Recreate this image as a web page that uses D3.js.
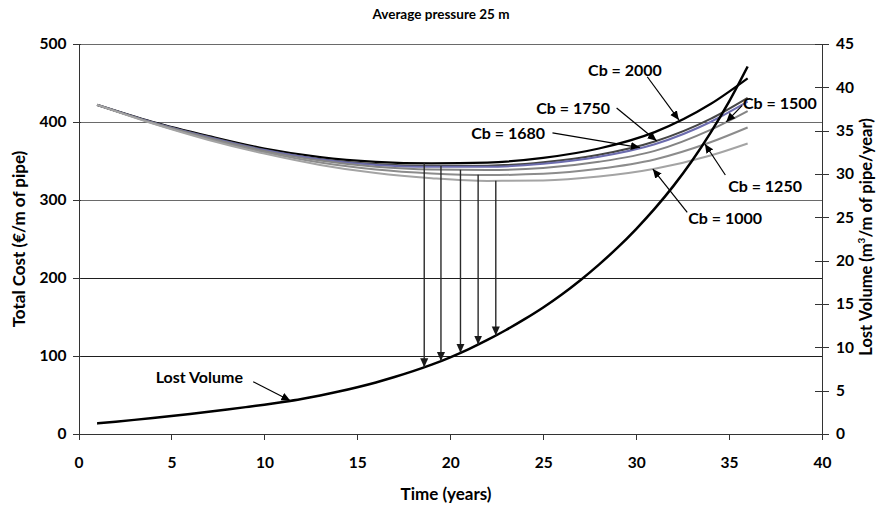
<!DOCTYPE html>
<html>
<head>
<meta charset="utf-8">
<script src="https://cdn.jsdelivr.net/npm/d3@7"></script>
<style>
  body { margin: 0; background: #fff; }
  svg text { font-family: Lato, "Open Sans", "DejaVu Sans", sans-serif; font-weight: 700; fill: #000; }
</style>
</head>
<body>
<svg id="chart" width="882" height="509"></svg>
<script>
// ---- data ----------------------------------------------------------------
const title = "Average pressure 25 m";
const xTicks = [0, 5, 10, 15, 20, 25, 30, 35, 40];
const costTicks = [0, 100, 200, 300, 400, 500];
const volumeTicks = [0, 5, 10, 15, 20, 25, 30, 35, 40, 45];

// total cost (€/m of pipe) sampled along the pipe's life
const costYears = [1, 4, 7, 10, 13, 16, 19, 22, 25, 28, 31, 34, 36];
const cb2000 = [422, 400, 382, 366, 355, 349, 347, 348, 354, 366, 387, 423, 456];
const cb1750 = [422, 399.5, 381, 364.5, 352.5, 346, 343.5, 344, 348.5, 358, 375, 404, 431];
const cb1680 = [422, 399.5, 380.5, 364, 352, 345, 342.5, 342.5, 346.5, 355.5, 371.5, 400, 426];
const cb1500 = [422, 399, 379.5, 363, 350.5, 342.5, 339, 338.5, 341, 349, 363, 390, 414];
const cb1250 = [422, 398.5, 378.5, 361.5, 348, 339, 334, 332, 333.5, 340, 352, 374, 393];
const cb1000 = [422, 398, 377, 359.5, 345, 334.5, 328, 324.5, 325, 330, 340, 357, 372.5];

// lost volume (m3/m of pipe/year)
const lostYears = [1, 2, 3, 4, 5, 6, 7, 8, 9, 10, 11, 12, 13, 14, 15, 16, 17, 18,
                   19, 20, 21, 22, 23, 24, 25, 26, 27, 28, 29, 30, 31, 32, 33, 34, 35, 36];
const lostVolume = [1.22, 1.42, 1.63, 1.85, 2.08, 2.32, 2.57, 2.83, 3.1, 3.38, 3.7, 4.05, 4.45, 4.9, 5.4, 5.95, 6.57, 7.25,
                    8.0, 8.85, 9.8, 10.85, 12.0, 13.25, 14.6, 16.1, 17.75, 19.55, 21.5, 23.65, 26.0, 28.6, 31.5, 34.75, 38.35, 42.4];

// optimal replacement time of each cost curve
const optimumYears = [18.6, 19.5, 20.55, 21.5, 22.45];
const optimumSeries = ["Cb = 2000", "Cb = 1750", "Cb = 1500", "Cb = 1250", "Cb = 1000"];

// ---- layout --------------------------------------------------------------
const plot = { left: 78.5, right: 822, top: 44, bottom: 434 };

const svg = d3.select("#chart");
const x = d3.scaleLinear().domain([0, 40]).range([plot.left, plot.right]);
const yCost = d3.scaleLinear().domain([0, 500]).range([plot.bottom, plot.top]);
const yVol = d3.scaleLinear().domain([0, 45]).range([plot.bottom, plot.top]);

const series = [
  { name: "Cb = 2000", values: cb2000, color: "#000000", width: 2.2 },
  { name: "Cb = 1750", values: cb1750, color: "#454545", width: 2 },
  { name: "Cb = 1680", values: cb1680, color: "#6c6cae", width: 2 },
  { name: "Cb = 1500", values: cb1500, color: "#848484", width: 2 },
  { name: "Cb = 1250", values: cb1250, color: "#8c8c8c", width: 2 },
  { name: "Cb = 1000", values: cb1000, color: "#a4a4a4", width: 2 }
];
const byName = {};
series.forEach(s => { byName[s.name] = s; s.at = d3.scaleLinear().domain(costYears).range(s.values); });
const volAt = d3.scaleLinear().domain(lostYears).range(lostVolume);

// arrowhead markers
const defs = svg.append("defs");
function marker(id, color, size) {
  defs.append("marker")
    .attr("id", id).attr("markerUnits", "userSpaceOnUse")
    .attr("viewBox", "0 0 10 10").attr("refX", 10).attr("refY", 5)
    .attr("markerWidth", size).attr("markerHeight", size).attr("orient", "auto")
    .append("path").attr("d", "M0,0.5 L10,5 L0,9.5 Z").attr("fill", color);
}
marker("headDrop", "#1a1a1a", 9);
marker("headLabel", "#000", 9);

// gridlines: the lower two read darker than the upper ones
const grid = svg.append("g").attr("shape-rendering", "crispEdges");
grid.selectAll("line").data(costTicks.filter(d => d > 0)).join("line")
  .attr("x1", plot.left).attr("x2", plot.right)
  .attr("y1", d => yCost(d)).attr("y2", d => yCost(d))
  .attr("stroke", d => (d <= 200 ? "#1e1e1e" : "#6a6a6a")).attr("stroke-width", 1);

// axes
function styleAxis(g) {
  g.select(".domain").attr("stroke", "#333").attr("shape-rendering", "crispEdges");
  g.selectAll(".tick line").attr("stroke", "#333").attr("shape-rendering", "crispEdges");
  g.selectAll(".tick text").style("font-size", "15.5px").attr("fill", "#000");
}
const gx = svg.append("g").attr("transform", `translate(0,${plot.bottom})`)
  .call(d3.axisBottom(x).tickValues(xTicks).tickSizeInner(6).tickSizeOuter(0).tickPadding(17).tickFormat(d3.format("d")));
styleAxis(gx);

const gl = svg.append("g").attr("transform", `translate(${plot.left},0)`)
  .call(d3.axisLeft(yCost).tickValues(costTicks).tickSizeInner(6).tickSizeOuter(0).tickPadding(6).tickFormat(d3.format("d")));
styleAxis(gl);
gl.selectAll(".tick line").attr("x1", 2);

const gr = svg.append("g").attr("transform", `translate(${plot.right},0)`)
  .call(d3.axisRight(yVol).tickValues(volumeTicks).tickSizeInner(7).tickSizeOuter(0).tickPadding(7).tickFormat(d3.format("d")));
styleAxis(gr);
gr.selectAll(".tick line").attr("x1", -7);

// cost curves (darkest first so the lighter ones sit on top)
const costLine = d3.line().x(d => x(d[0])).y(d => yCost(d[1])).curve(d3.curveMonotoneX);
svg.append("g").selectAll("path").data(series).join("path")
  .attr("d", s => costLine(costYears.map((t, i) => [t, s.values[i]])))
  .attr("fill", "none").attr("stroke", s => s.color).attr("stroke-width", s => s.width);

// lost volume curve on the right axis
const volLine = d3.line().x(d => x(d[0])).y(d => yVol(d[1])).curve(d3.curveMonotoneX);
svg.append("path")
  .attr("d", volLine(lostYears.map((t, i) => [t, lostVolume[i]])))
  .attr("fill", "none").attr("stroke", "#000").attr("stroke-width", 2.5);

// drop lines from each cost minimum to the lost volume curve
svg.append("g").selectAll("line").data(optimumYears).join("line")
  .attr("x1", t => x(t)).attr("x2", t => x(t))
  .attr("y1", (t, i) => yCost(byName[optimumSeries[i]].at(t)))
  .attr("y2", t => yVol(volAt(t)))
  .attr("stroke", "#2a2a2a").attr("stroke-width", 1.4)
  .attr("marker-end", "url(#headDrop)");

// curve labels with pointer arrows (positions in data units)
const labels = [
  { text: "Cb = 2000", tx: 29.4, ty: 466, anchor: "middle", ax: 30.6, ay: 458, target: () => [32.3, byName["Cb = 2000"].at(32.3)], axis: "cost" },
  { text: "Cb = 1750", tx: 28.6, ty: 417, anchor: "end", ax: 28.95, ay: 418, target: () => [31.1, byName["Cb = 1750"].at(31.1)], axis: "cost" },
  { text: "Cb = 1680", tx: 25.1, ty: 385, anchor: "end", ax: 25.5, ay: 386, target: () => [30.2, byName["Cb = 1680"].at(30.2)], axis: "cost" },
  { text: "Cb = 1500", tx: 35.75, ty: 424, anchor: "start", ax: 35.7, ay: 421, target: () => [34.85, byName["Cb = 1500"].at(34.85)], axis: "cost" },
  { text: "Cb = 1250", tx: 34.95, ty: 318, anchor: "start", ax: 34.8, ay: 332, target: () => [33.7, byName["Cb = 1250"].at(33.7)], axis: "cost" },
  { text: "Cb = 1000", tx: 32.8, ty: 276, anchor: "start", ax: 32.75, ay: 284, target: () => [30.9, byName["Cb = 1000"].at(30.9)], axis: "cost" },
  { text: "Lost Volume", tx: 4.15, ty: 72, anchor: "start", ax: 9.4, ay: 67, target: () => [11.4, volAt(11.4)], axis: "vol" }
];
const lab = svg.append("g");
labels.forEach(l => {
  const [tt, tv] = l.target();
  const yT = l.axis === "vol" ? yVol(tv) : yCost(tv);
  lab.append("line")
    .attr("x1", x(l.ax)).attr("y1", yCost(l.ay))
    .attr("x2", x(tt)).attr("y2", yT)
    .attr("stroke", "#000").attr("stroke-width", 1.2)
    .attr("marker-end", "url(#headLabel)");
  lab.append("text")
    .attr("x", x(l.tx)).attr("y", yCost(l.ty)).attr("dy", "0.35em")
    .attr("text-anchor", l.anchor).style("font-size", "16px")
    .text(l.text);
});

// titles
svg.append("text").attr("x", 441).attr("y", 19).attr("text-anchor", "middle")
  .style("font-size", "13.5px").text(title);
svg.append("text").attr("x", 446).attr("y", 500).attr("text-anchor", "middle")
  .style("font-size", "17px").text("Time (years)");
svg.append("text").attr("transform", "translate(25,239) rotate(-90)")
  .attr("text-anchor", "middle").style("font-size", "17px").text("Total Cost (€/m of pipe)");
const rt = svg.append("text").attr("transform", "translate(872,237) rotate(-90)")
  .attr("text-anchor", "middle").style("font-size", "16.5px");
rt.append("tspan").text("Lost Volume (m");
rt.append("tspan").attr("dy", -7).style("font-size", "10px").text("3");
rt.append("tspan").attr("dy", 7).text("/m of pipe/year)");
</script>
</body>
</html>
